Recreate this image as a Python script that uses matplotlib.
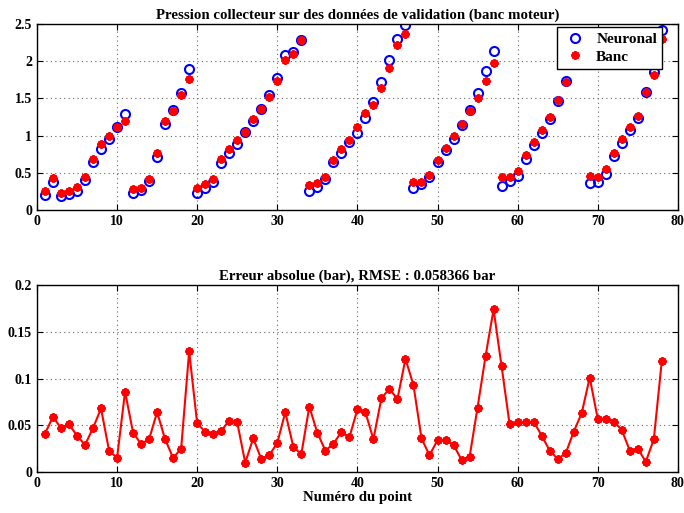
import numpy as np
import matplotlib.pyplot as plt
from matplotlib.ticker import FuncFormatter

# point index
points = np.arange(1, 79)

# network output (bar)
neuronal = [
    0.20, 0.37, 0.19, 0.22, 0.26, 0.40, 0.64, 0.82, 0.96, 1.11, 1.29,
    0.23, 0.27, 0.39, 0.71, 1.16, 1.35, 1.57, 1.90,
    0.23, 0.30, 0.38, 0.63, 0.76, 0.89, 1.05, 1.19, 1.36, 1.54, 1.77, 2.09, 2.12, 2.29,
    0.26, 0.31, 0.42, 0.64, 0.77, 0.91, 1.03, 1.24, 1.45, 1.72, 2.01, 2.30, 2.49,
    0.29, 0.35, 0.45, 0.64, 0.80, 0.96, 1.14, 1.35, 1.57, 1.87, 2.14,
    0.32, 0.39, 0.46, 0.68, 0.87, 1.04, 1.22, 1.47, 1.74, 2.00, 2.27,
    0.36, 0.38, 0.49, 0.72, 0.90, 1.07, 1.24, 1.58, 1.85, 2.42,
]

# test bench measurement (bar)
banc = [
    0.25, 0.43, 0.23, 0.26, 0.31, 0.44, 0.68, 0.89, 0.99, 1.11, 1.20,
    0.28, 0.29, 0.42, 0.77, 1.20, 1.33, 1.54, 1.76,
    0.29, 0.35, 0.42, 0.68, 0.82, 0.94, 1.05, 1.23, 1.36, 1.52, 1.74, 2.02, 2.10, 2.29,
    0.33, 0.36, 0.44, 0.67, 0.82, 0.94, 1.11, 1.30, 1.41, 1.64, 1.91, 2.22, 2.37,
    0.38, 0.38, 0.47, 0.67, 0.83, 1.00, 1.16, 1.33, 1.50, 1.74, 1.98,
    0.44, 0.45, 0.52, 0.74, 0.92, 1.08, 1.25, 1.48, 1.72, 1.96, 2.21,
    0.46, 0.45, 0.55, 0.77, 0.95, 1.12, 1.27, 1.58, 1.82, 2.30,
]

# absolute error (bar)
erreur = [
    0.041, 0.059, 0.047, 0.051, 0.039, 0.029, 0.047, 0.068, 0.023, 0.015,
    0.086, 0.042, 0.030, 0.035, 0.064, 0.035, 0.015, 0.025, 0.129, 0.052,
    0.043, 0.041, 0.044, 0.055, 0.053, 0.010, 0.036, 0.014, 0.018, 0.031,
    0.064, 0.027, 0.019, 0.070, 0.042, 0.023, 0.030, 0.043, 0.037, 0.067,
    0.064, 0.035, 0.079, 0.089, 0.078, 0.121, 0.093, 0.036, 0.018, 0.034,
    0.034, 0.029, 0.013, 0.016, 0.069, 0.124, 0.174, 0.113, 0.051, 0.053,
    0.053, 0.054, 0.039, 0.023, 0.014, 0.020, 0.043, 0.063, 0.101, 0.057,
    0.057, 0.054, 0.045, 0.023, 0.025, 0.011, 0.035, 0.119,
]

plt.rcParams['font.family'] = ['Liberation Serif', 'DejaVu Serif']
plt.rcParams['font.weight'] = 'bold'
plt.rcParams['font.size'] = 10

fmt = FuncFormatter(lambda v, p: '%g' % v)
star = (8, 2, 0)  # matlab-like asterisk


def style(ax):
    ax.grid(True, linestyle=(0, (1, 3)), color='0.4', linewidth=0.8)
    ax.tick_params(direction='in', top=True, right=True, length=4, width=0.8)
    for s in ax.spines.values():
        s.set_linewidth(1.0)
    ax.yaxis.set_major_formatter(fmt)
    for lab in ax.get_xticklabels() + ax.get_yticklabels():
        lab.set_fontweight('bold')


fig = plt.figure(figsize=(6.84, 5.13), dpi=100)
ax1 = fig.add_axes([0.054, 0.5906, 0.937, 0.3626])
ax2 = fig.add_axes([0.054, 0.0799, 0.937, 0.3645])

ax1.plot(points, neuronal, 'o', color='blue', markerfacecolor='none',
         markersize=6.5, markeredgewidth=1.5, label='Neuronal')
ax1.plot(points, banc, linestyle='none', marker=star, color='red',
         markersize=6, markeredgewidth=1.6, label='Banc')
ax1.set_xlim(0, 80)
ax1.set_ylim(0, 2.5)
ax1.set_xticks(range(0, 81, 10))
ax1.set_yticks([0, 0.5, 1, 1.5, 2, 2.5])
ax1.set_title('Pression collecteur sur des données de validation (banc moteur)',
              fontweight='bold', fontsize=10.7, pad=4)
leg = ax1.legend(loc='upper right', bbox_to_anchor=(0.976, 0.984),
                 fancybox=False, framealpha=1, edgecolor='black',
                 prop={'weight': 'bold', 'size': 11},
                 handletextpad=0.6, handlelength=1.6, borderpad=0.35,
                 labelspacing=0.25, borderaxespad=0)
leg.get_frame().set_linewidth(1.0)
style(ax1)

ax2.plot(points, erreur, '-', color='red', linewidth=1.5,
         marker=star, markersize=6, markeredgewidth=1.6)
ax2.set_xlim(0, 80)
ax2.set_ylim(0, 0.2)
ax2.set_xticks(range(0, 81, 10))
ax2.set_yticks([0, 0.05, 0.1, 0.15, 0.2])
ax2.set_title('Erreur absolue (bar), RMSE : 0.058366 bar',
              fontweight='bold', fontsize=10.7, pad=4)
ax2.set_xlabel('Numéro du point', fontweight='bold', fontsize=10.7, labelpad=1)
style(ax2)

fig.savefig('out.png', dpi=100)
